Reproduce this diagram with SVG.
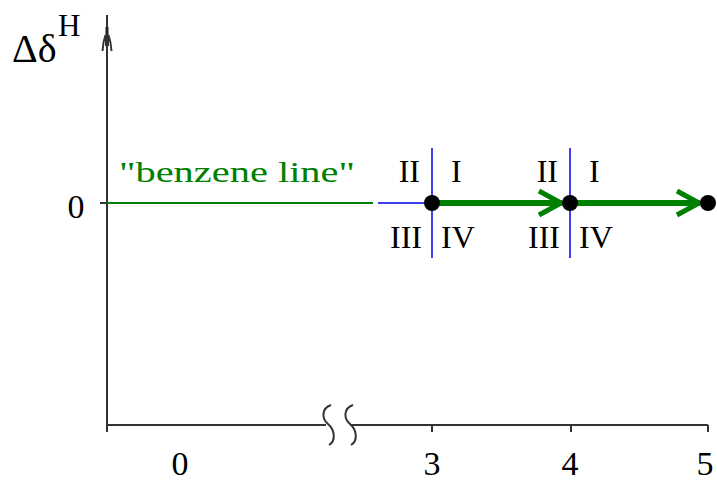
<svg xmlns="http://www.w3.org/2000/svg" width="717" height="483" viewBox="0 0 717 483" font-family="Liberation Serif, serif">
<style>
.ax{stroke:#333;stroke-width:2;fill:none}
.bl{stroke:#0000ee;stroke-width:1.5;fill:none}
.gr{stroke:#008000;fill:none}
</style>
<rect width="717" height="483" fill="#fff"/>
<g id="axes">
<path class="ax" d="M107,15 V432 M100,203 H107 M107,425 H326 M350,425 H708 M432,425 V432 M571,425 V432 M708,425 V432"/>
<path d="M105.5,27 H108.5 V35 H105.5 Z" fill="#222"/>
<path class="ax" stroke-width="1.3" d="M105.5,35 Q103,42 102.5,51 M108.5,35 Q111,42 111.5,51 M106,35 V46 M108,35 V46"/>
<path class="ax" stroke-width="1.5" d="M331,405 C322,408 321,418 328,424 C335,430 336,441 329,445 M353,405 C344,408 343,418 350,424 C357,430 358,441 351,445"/>
</g>
<g id="labels" font-family="Liberation Serif">
<text x="12" y="62" font-size="40">Δδ</text>
<text x="58" y="36" font-size="31">H</text>
<text x="76" y="218" font-size="34" text-anchor="middle">0</text>
<text x="180" y="475" font-size="34" text-anchor="middle">0</text>
<text x="432" y="475" font-size="34" text-anchor="middle">3</text>
<text x="570" y="475" font-size="34" text-anchor="middle">4</text>
<text x="705" y="475" font-size="34" text-anchor="middle">5</text>
</g>
<g id="benzene-line" font-family="Liberation Serif">
<path class="gr" stroke-width="2" d="M107,203 H373"/>
<text x="119" y="182" font-size="30" fill="#008000" textLength="236" lengthAdjust="spacingAndGlyphs">"benzene line"</text>
</g>
<g id="connectors">
<path class="gr" stroke-width="6" d="M432,203 H562 M570,203 H700"/>
<path class="gr" stroke-width="5" stroke-linejoin="miter" d="M539,191 L561,203 L539,215 M677,191 L699,203 L677,215"/>
</g>
<g id="point3" font-family="Liberation Serif" font-size="32">
<path class="bl" d="M378,203 H432 M432,148 V258"/>
<circle cx="432" cy="203" r="8" fill="#000"/>
<text x="420" y="182" text-anchor="end">II</text>
<text x="451" y="182">I</text>
<text x="422" y="248" text-anchor="end">III</text>
<text x="441" y="248">IV</text>
</g>
<g id="point4" font-family="Liberation Serif" font-size="32">
<path class="bl" d="M570,148 V258"/>
<circle cx="570" cy="203" r="8" fill="#000"/>
<text x="558" y="182" text-anchor="end">II</text>
<text x="589" y="182">I</text>
<text x="560" y="248" text-anchor="end">III</text>
<text x="579" y="248">IV</text>
</g>
<g id="point5">
<circle cx="708" cy="203" r="8" fill="#000"/>
</g>
</svg>
